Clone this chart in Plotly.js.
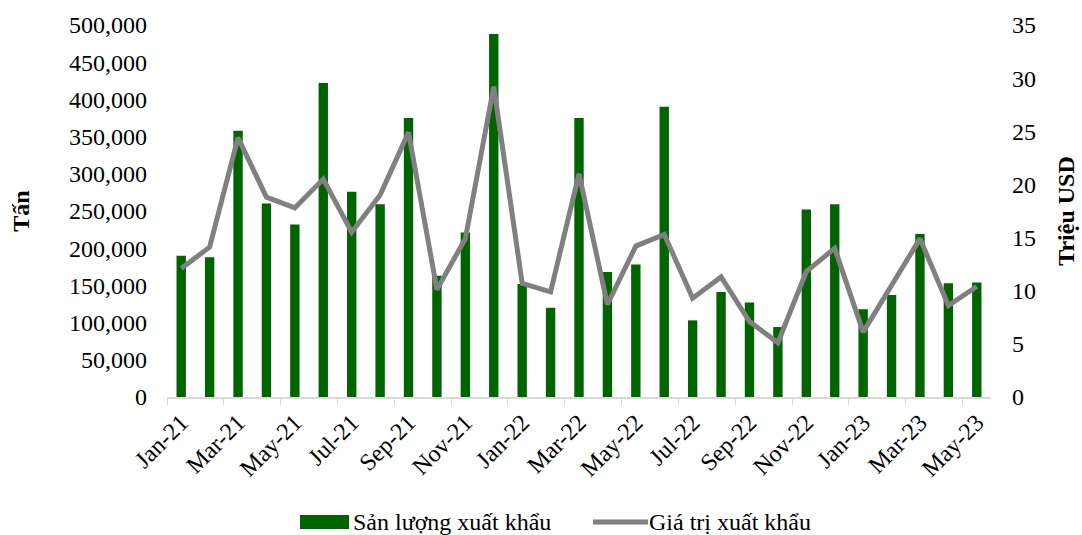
<!DOCTYPE html>
<html>
<head>
<meta charset="utf-8">
<script src="https://cdn.plot.ly/plotly-3.0.1.min.js"></script>
<style>
  html, body { margin: 0; padding: 0; background: #fff; }
  #chart { width: 1082px; height: 535px; }
</style>
</head>
<body>
<div id="chart"></div>
<script>
const months = ['Jan-21','Feb-21','Mar-21','Apr-21','May-21','Jun-21','Jul-21','Aug-21','Sep-21','Oct-21','Nov-21','Dec-21',
  'Jan-22','Feb-22','Mar-22','Apr-22','May-22','Jun-22','Jul-22','Aug-22','Sep-22','Oct-22','Nov-22','Dec-22',
  'Jan-23','Feb-23','Mar-23','Apr-23','May-23'];

// Sản lượng xuất khẩu (tấn)
const volume = [190000, 188000, 358000, 260000, 232000, 422000, 276000, 259000, 375000, 163000, 221000, 488000,
  152000, 120000, 375000, 168000, 178000, 390000, 103000, 141000, 127000, 94000, 252000, 259000,
  118000, 137000, 219000, 153000, 154000];

// Giá trị xuất khẩu (triệu USD)
const value = [12.1, 14.1, 24.4, 18.8, 17.8, 20.5, 15.5, 19.0, 24.9, 10.1, 14.9, 29.2,
  10.7, 9.9, 21.0, 8.7, 14.2, 15.3, 9.3, 11.3, 7.1, 5.1, 11.8, 14.0,
  6.1, 10.4, 14.9, 8.6, 10.4];

const FONT = '"Liberation Serif", "Times New Roman", serif';
const FS = 24;

const traceBar = {
  type: 'bar',
  x: months,
  y: volume,
  name: 'Sản lượng xuất khẩu',
  marker: { color: '#006400' },
  width: 0.33,
  yaxis: 'y'
};

const traceLine = {
  type: 'scatter',
  mode: 'lines',
  x: months,
  y: value,
  name: 'Giá trị xuất khẩu',
  line: { color: '#808080', width: 5 },
  yaxis: 'y2'
};

// legend drawn by hand so the swatches match (wide bar block, thick grey line)
const legendShapes = [
  { type: 'rect', xref: 'paper', yref: 'paper', x0: 0.1614, x1: 0.2209, y0: -0.3172, y1: -0.3548,
    fillcolor: '#006400', line: { width: 0 } },
  { type: 'line', xref: 'paper', yref: 'paper', x0: 0.517, x1: 0.5837, y0: -0.336, y1: -0.336,
    line: { color: '#808080', width: 5 } }
];
const legendLabels = [
  { xref: 'paper', yref: 'paper', x: 0.2233, y: -0.336, xanchor: 'left', yanchor: 'middle',
    text: 'Sản lượng xuất khẩu', showarrow: false, font: { family: FONT, size: FS } },
  { xref: 'paper', yref: 'paper', x: 0.583, y: -0.336, xanchor: 'left', yanchor: 'middle',
    text: 'Giá trị xuất khẩu', showarrow: false, font: { family: FONT, size: FS } }
];

const layout = {
  width: 1082,
  height: 535,
  margin: { t: 25, b: 138, l: 167, r: 91 },
  paper_bgcolor: '#fff',
  plot_bgcolor: '#fff',
  font: { family: FONT, color: '#000', size: FS },
  showlegend: false,
  shapes: legendShapes,
  annotations: legendLabels,
  xaxis: {
    type: 'category',
    automargin: false,
    tickangle: -45,
    dtick: 2,
    tickson: 'boundaries',
    ticks: 'outside',
    ticklen: 6,
    tickcolor: '#d9d9d9',
    showline: true,
    linecolor: '#d9d9d9',
    linewidth: 2,
    showgrid: false,
    tickfont: { family: FONT, size: FS }
  },
  yaxis: {
    automargin: false,
    range: [0, 500000],
    dtick: 50000,
    tickformat: ',d',
    showgrid: false,
    zeroline: false,
    ticklabelstandoff: 19,
    tickfont: { family: FONT, size: FS },
    title: { text: '<b>Tấn</b>', font: { family: FONT, size: 24 }, standoff: 32 }
  },
  yaxis2: {
    automargin: false,
    overlaying: 'y',
    side: 'right',
    range: [0, 35],
    dtick: 5,
    showgrid: false,
    zeroline: false,
    ticklabelstandoff: 20,
    tickfont: { family: FONT, size: FS },
    title: { text: '<b>Triệu USD</b>', font: { family: FONT, size: 24 }, standoff: 22 }
  }
};

Plotly.newPlot('chart', [traceBar, traceLine], layout, { displayModeBar: false });
</script>
</body>
</html>
